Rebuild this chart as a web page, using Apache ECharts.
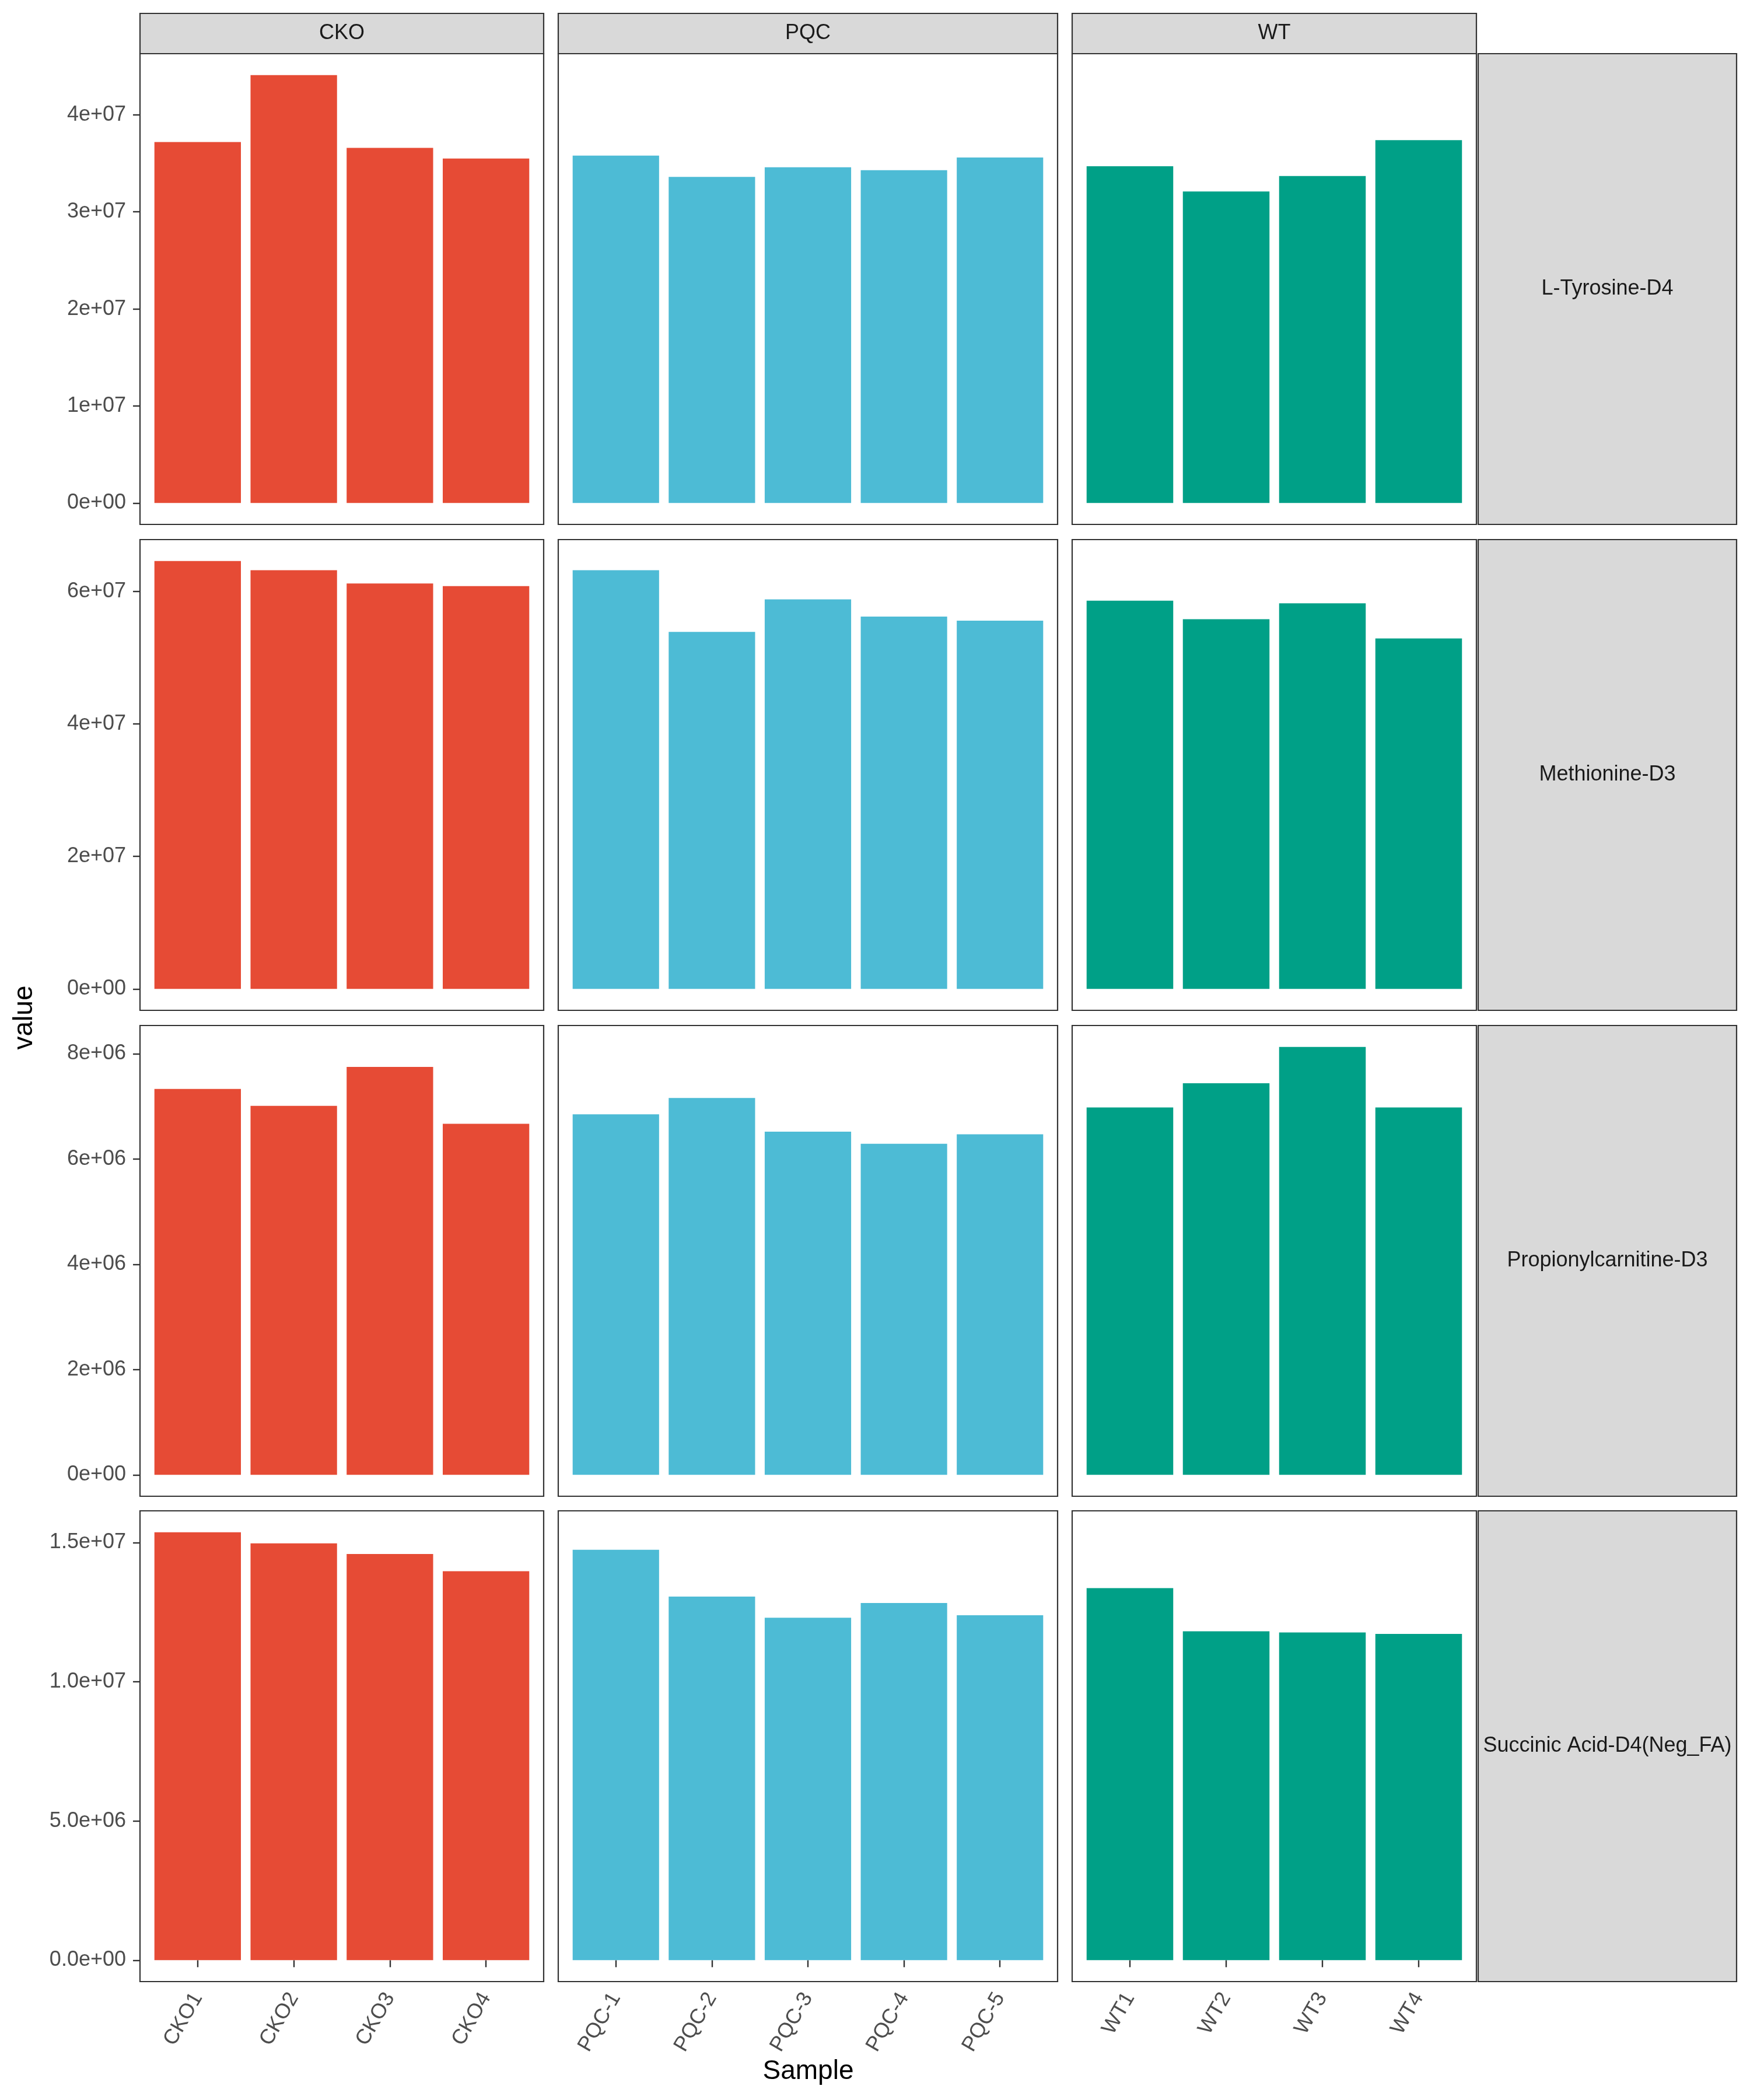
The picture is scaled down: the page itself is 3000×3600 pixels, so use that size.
<!DOCTYPE html>
<html>
<head>
<meta charset="utf-8">
<script src="https://cdn.jsdelivr.net/npm/echarts@6/dist/echarts.min.js"></script>
<style>html,body{margin:0;padding:0;background:#fff;}#chart{width:3000px;height:3600px;}</style>
</head>
<body>
<div id="chart"></div>
<script>
// ---- data ----
const groups = ['CKO', 'PQC', 'WT'];
const samplesCKO = ['CKO1', 'CKO2', 'CKO3', 'CKO4'];
const samplesPQC = ['PQC-1', 'PQC-2', 'PQC-3', 'PQC-4', 'PQC-5'];
const samplesWT = ['WT1', 'WT2', 'WT3', 'WT4'];
const metabolites = ['L-Tyrosine-D4', 'Methionine-D3', 'Propionylcarnitine-D3', 'Succinic Acid-D4(Neg_FA)'];
const groupColors = ['#E64B35', '#4DBBD5', '#00A087'];

const tyrosineCKO = [3.72e7, 4.41e7, 3.66e7, 3.55e7];
const tyrosinePQC = [3.58e7, 3.36e7, 3.46e7, 3.43e7, 3.56e7];
const tyrosineWT = [3.47e7, 3.21e7, 3.37e7, 3.74e7];
const methionineCKO = [6.46e7, 6.32e7, 6.12e7, 6.08e7];
const methioninePQC = [6.32e7, 5.39e7, 5.88e7, 5.62e7, 5.56e7];
const methionineWT = [5.86e7, 5.58e7, 5.82e7, 5.29e7];
const propionylCKO = [7.33e6, 7.01e6, 7.75e6, 6.67e6];
const propionylPQC = [6.85e6, 7.16e6, 6.52e6, 6.29e6, 6.47e6];
const propionylWT = [6.98e6, 7.44e6, 8.13e6, 6.98e6];
const succinicCKO = [1.537e7, 1.497e7, 1.459e7, 1.397e7];
const succinicPQC = [1.474e7, 1.306e7, 1.230e7, 1.283e7, 1.239e7];
const succinicWT = [1.336e7, 1.181e7, 1.177e7, 1.172e7];

const ticksTyrosine = [0, 1e7, 2e7, 3e7, 4e7];
const labelsTyrosine = ['0e+00', '1e+07', '2e+07', '3e+07', '4e+07'];
const ticksMethionine = [0, 2e7, 4e7, 6e7];
const labelsMethionine = ['0e+00', '2e+07', '4e+07', '6e+07'];
const ticksPropionyl = [0, 2e6, 4e6, 6e6, 8e6];
const labelsPropionyl = ['0e+00', '2e+06', '4e+06', '6e+06', '8e+06'];
const ticksSuccinic = [0, 5e6, 1e7, 1.5e7];
const labelsSuccinic = ['0.0e+00', '5.0e+06', '1.0e+07', '1.5e+07'];

// ---- assembly ----
const samples = [samplesCKO, samplesPQC, samplesWT];
const values = [
  [tyrosineCKO, tyrosinePQC, tyrosineWT],
  [methionineCKO, methioninePQC, methionineWT],
  [propionylCKO, propionylPQC, propionylWT],
  [succinicCKO, succinicPQC, succinicWT]
];
const rowTicks = [ticksTyrosine, ticksMethionine, ticksPropionyl, ticksSuccinic];
const rowLabels = [labelsTyrosine, labelsMethionine, labelsPropionyl, labelsSuccinic];

const colLeft = [240, 957, 1838];
const colWidth = [692, 856, 693];
const rowTop = [92, 925, 1758, 2590];
const rowHeight = 807;
const stripTop = 23, stripH = 69;
const rStripX = 2534, rStripW = 443;
const FONT = '"Liberation Sans", Arial, sans-serif';
const border = '#333333';

const grids = [], xAxes = [], yAxes = [], series = [], graphics = [];

for (let r = 0; r < 4; r++) {
  const rowMax = Math.max(...values[r].flat());
  const ymin = -0.05 * rowMax, ymax = 1.05 * rowMax;
  for (let c = 0; c < 3; c++) {
    const idx = r * 3 + c;
    const n = samples[c].length;
    grids.push({
      left: colLeft[c], top: rowTop[r], width: colWidth[c], height: rowHeight,
      show: true, borderColor: border, borderWidth: 2.2, backgroundColor: '#fff', containLabel: false
    });
    const bottomRow = r === 3;
    const ticksX = samples[c].map((s, i) => i + 1);
    xAxes.push({
      type: 'value', gridIndex: idx, min: 0.4, max: n + 0.6,
      axisLine: { show: false },
      splitLine: { show: false },
      axisTick: { show: bottomRow, customValues: ticksX, length: 12, lineStyle: { color: border, width: 2.4 } },
      axisLabel: {
        show: bottomRow, customValues: ticksX, rotate: 60, margin: 22,
        fontSize: 36, color: '#4D4D4D', fontFamily: FONT,
        formatter: (v) => samples[c][Math.round(v) - 1] || ''
      }
    });
    const firstCol = c === 0;
    yAxes.push({
      type: 'value', gridIndex: idx, min: ymin, max: ymax,
      axisLine: { show: false },
      splitLine: { show: false },
      axisTick: { show: firstCol, customValues: rowTicks[r], length: 12, lineStyle: { color: border, width: 2.4 } },
      axisLabel: {
        show: firstCol, customValues: rowTicks[r], margin: 24,
        fontSize: 36, color: '#4D4D4D', fontFamily: FONT,
        formatter: (v) => {
          const k = rowTicks[r].findIndex(t => Math.abs(t - v) < 1e-6 * rowMax);
          return k >= 0 ? rowLabels[r][k] : '';
        }
      }
    });
    series.push({
      type: 'bar', xAxisIndex: idx, yAxisIndex: idx,
      barWidth: 0.9 * colWidth[c] / (n + 0.2),
      itemStyle: { color: groupColors[c] },
      data: values[r][c].map((v, i) => [i + 1, v]),
      silent: true, animation: false
    });
  }
  graphics.push({
    type: 'rect', shape: { x: rStripX, y: rowTop[r], width: rStripW, height: rowHeight },
    style: { fill: '#D9D9D9', stroke: border, lineWidth: 2.2 }
  });
  graphics.push({
    type: 'text', x: rStripX + rStripW / 2, y: rowTop[r] + rowHeight / 2,
    style: { text: metabolites[r], fontSize: 36, fontFamily: FONT, fill: '#1A1A1A', align: 'center', verticalAlign: 'middle' }
  });
}
for (let c = 0; c < 3; c++) {
  graphics.push({
    type: 'rect', shape: { x: colLeft[c], y: stripTop, width: colWidth[c], height: stripH },
    style: { fill: '#D9D9D9', stroke: border, lineWidth: 2.2 }
  });
  graphics.push({
    type: 'text', x: colLeft[c] + colWidth[c] / 2, y: stripTop + stripH / 2,
    style: { text: groups[c], fontSize: 36, fontFamily: FONT, fill: '#1A1A1A', align: 'center', verticalAlign: 'middle' }
  });
}
graphics.push({
  type: 'text', x: (colLeft[0] + colLeft[2] + colWidth[2]) / 2, y: 3551,
  style: { text: 'Sample', fontSize: 46, fontFamily: FONT, fill: '#000', align: 'center', verticalAlign: 'middle' }
});
graphics.push({
  type: 'text', x: 42, y: (rowTop[0] + rowTop[3] + rowHeight) / 2, rotation: Math.PI / 2,
  style: { text: 'value', fontSize: 46, fontFamily: FONT, fill: '#000', align: 'center', verticalAlign: 'middle' }
});

const chart = echarts.init(document.getElementById('chart'), null, { renderer: 'canvas' });
chart.setOption({
  backgroundColor: '#fff',
  animation: false,
  grid: grids, xAxis: xAxes, yAxis: yAxes, series: series,
  graphic: { elements: graphics }
});
</script>
</body>
</html>
